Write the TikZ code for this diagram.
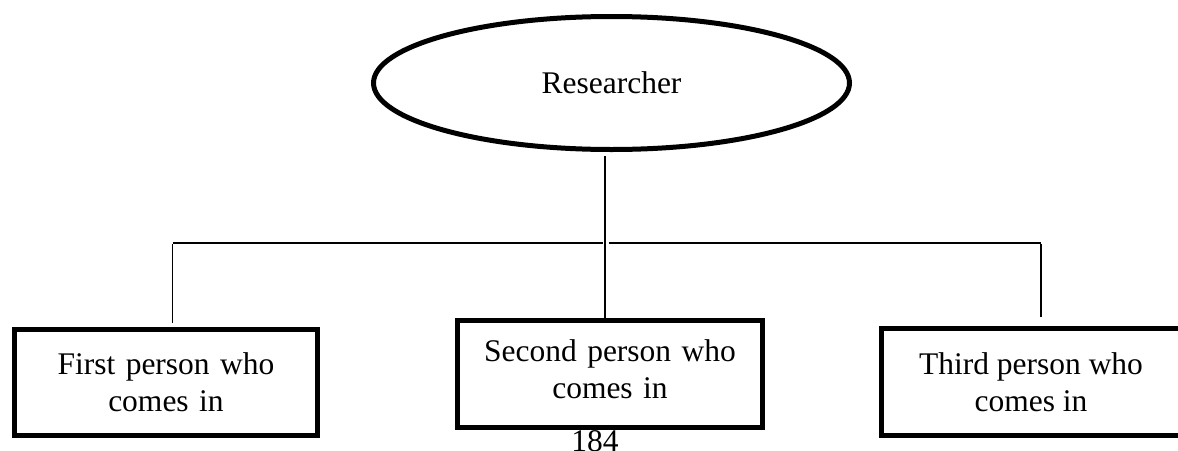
\documentclass[tikz,border=0pt]{standalone}
\usepackage{fontspec}
\setmainfont{Liberation Serif}
\usetikzlibrary{shapes.geometric}

\tikzset{
  role/.style={draw=black, line width=5pt, ellipse, minimum width=476pt, minimum height=133pt, inner sep=0pt},
  boxframe/.style={draw=black, line width=5pt, rectangle, minimum width=303pt, minimum height=106pt, inner sep=0pt},
  personbox/.style={boxframe, text width=290pt, align=center},
  conn/.style={draw=black, line width=1.6pt},
  pagenum/.style={inner sep=0pt, anchor=base}
}

\begin{document}
\begin{tikzpicture}[x=1pt, y=-1pt, font=\fontsize{31.5}{37}\selectfont]
  \useasboundingbox (0,0) rectangle (1178,450);

  % top-level role
  \node[role] (res) at (611.5,83) {Researcher};

  % the three participants
  \node[personbox] (p1) at (166,382.5) {First person who\\comes in};
  \node[personbox, minimum width=305pt, minimum height=107pt, text height=21.5pt, text depth=47pt] (p2) at (610,374) {Second person who\\comes in};
  \node[boxframe, minimum width=311pt, minimum height=107pt] (p3) at (1037,382)
    {\hspace*{-12pt}\parbox{290pt}{\centering Third person who\\comes in}};

  % page number beneath the middle box
  \node[pagenum] (pg) at (595,451.5) {184};

  % branching connectors
  \coordinate (stemTop) at (605,156);
  \coordinate (busL) at (172.5,243);
  \coordinate (busR) at (1041,243);
  \coordinate (gapL) at (603,243);
  \coordinate (gapR) at (608.5,243);

  \draw[conn] (stemTop) -- (stemTop |- p2.north);
  \draw[conn] (busL) -- (gapL);
  \draw[conn] (gapR) -- (busR);
  \draw[conn, shorten >=4pt] ([yshift=-0.8pt]busL) -- (busL |- p1.north);
  \draw[conn, shorten >=9pt] ([yshift=-0.8pt]busR) -- (busR |- p3.north);
\end{tikzpicture}
\end{document}
